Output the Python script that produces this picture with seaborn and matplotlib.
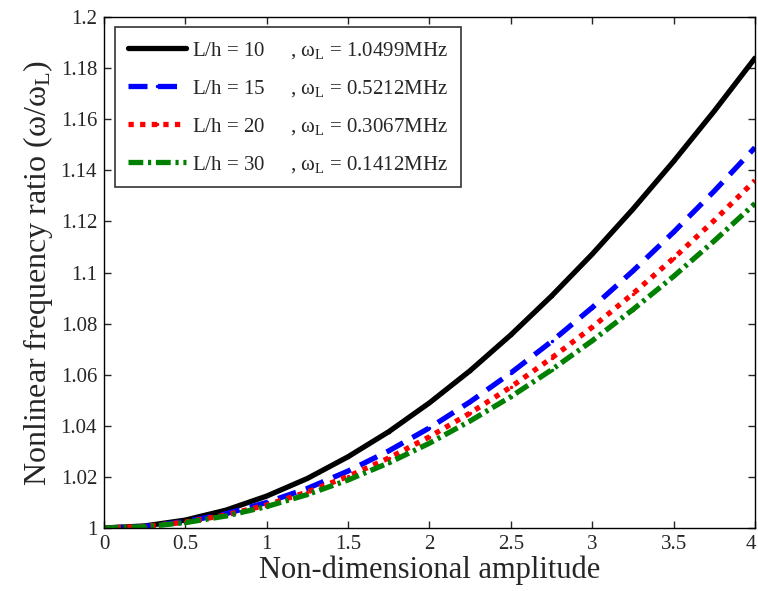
import numpy as np
import pandas as pd
import seaborn as sns
import matplotlib.pyplot as plt
import matplotlib.transforms as mtransforms

# amplitude values (x axis)
amplitude = [0, 0.25, 0.5, 0.75, 1, 1.25, 1.5, 1.75, 2, 2.25, 2.5, 2.75, 3, 3.25, 3.5, 3.75, 4]

# frequency ratio
ratio_10 = [1, 1.0008, 1.0031, 1.0070, 1.0125, 1.0194, 1.0279, 1.0377, 1.0490,
            1.0616, 1.0756, 1.0908, 1.1072, 1.1248, 1.1435, 1.1632, 1.1839]
ratio_15 = [1, 1.0006, 1.0025, 1.0056, 1.0100, 1.0155, 1.0223, 1.0302, 1.0392,
            1.0494, 1.0607, 1.0730, 1.0863, 1.1006, 1.1158, 1.1319, 1.1489]
ratio_20 = [1, 1.0006, 1.0023, 1.0051, 1.0090, 1.0141, 1.0202, 1.0274, 1.0357,
            1.0450, 1.0552, 1.0665, 1.0786, 1.0917, 1.1056, 1.1204, 1.1360]
ratio_30 = [1, 1.0005, 1.0021, 1.0047, 1.0084, 1.0131, 1.0188, 1.0255, 1.0332,
            1.0419, 1.0514, 1.0619, 1.0733, 1.0855, 1.0985, 1.1124, 1.1270]

labels = [
    "L/h = 10     , ω$_\\mathregular{L}$ = 1.0499MHz",
    "L/h = 15     , ω$_\\mathregular{L}$ = 0.5212MHz",
    "L/h = 20     , ω$_\\mathregular{L}$ = 0.3067MHz",
    "L/h = 30     , ω$_\\mathregular{L}$ = 0.1412MHz",
]
colors = ["black", "blue", "red", "green"]

sns.set_style("white")
plt.rcParams["font.family"] = ["Liberation Serif", "DejaVu Serif"]
plt.rcParams["mathtext.default"] = "regular"

frames = []
for lab, vals in zip(labels, [ratio_10, ratio_15, ratio_20, ratio_30]):
    frames.append(pd.DataFrame({"amp": amplitude, "ratio": vals, "case": lab}))
df = pd.concat(frames, ignore_index=True)

fig = plt.figure(figsize=(7.58, 5.91), dpi=100)
ax = fig.add_axes([0.1372, 0.1066, 0.8588, 0.8646])

dashes = {labels[0]: "", labels[1]: (3.6, 2.0), labels[2]: (1.0, 1.2), labels[3]: (2.8, 0.9, 0.6, 0.9)}
markers = {lab: "." for lab in labels}
sns.lineplot(data=df, x="amp", y="ratio", hue="case", style="case",
             palette=dict(zip(labels, colors)), dashes=dashes, markers=markers,
             markersize=5, markeredgewidth=0, linewidth=3.8, ax=ax, legend=True)

ax.set_xlim(0, 4)
ax.set_ylim(1, 1.2)
ax.set_xticks(np.arange(0, 4.01, 0.5))
ax.set_xticklabels(["0", "0.5", "1", "1.5", "2", "2.5", "3", "3.5", "4"])
ax.set_yticks(np.arange(1, 1.201, 0.02))
ax.set_yticklabels(["1", "1.02", "1.04", "1.06", "1.08", "1.1", "1.12", "1.14", "1.16", "1.18", "1.2"])
ax.tick_params(direction="in", length=5, width=1, labelsize=15, top=True, right=True,
               bottom=True, left=True, pad=5)
for s in ax.spines.values():
    s.set_visible(True)
    s.set_color("black")
    s.set_linewidth(1.0)

# keep the last x tick label inside the figure
last = ax.get_xticklabels()[-1]
last.set_transform(last.get_transform() + mtransforms.ScaledTranslation(-4 / 100, 0, fig.dpi_scale_trans))

ax.set_xlabel("Non-dimensional amplitude", fontsize=22, labelpad=1)
ax.set_ylabel("Nonlinear frequency ratio (ω/ω$_\\mathregular{L}$)", fontsize=23, labelpad=4)

leg = ax.legend(loc="upper left", bbox_to_anchor=(0.017, 0.980), borderaxespad=0, fontsize=15,
                frameon=True, fancybox=False, edgecolor="black", handlelength=2.8,
                labelspacing=0.82, borderpad=0.6, handletextpad=0.3)
leg.get_frame().set_linewidth(1.2)

fig.savefig("out.png", dpi=100)
